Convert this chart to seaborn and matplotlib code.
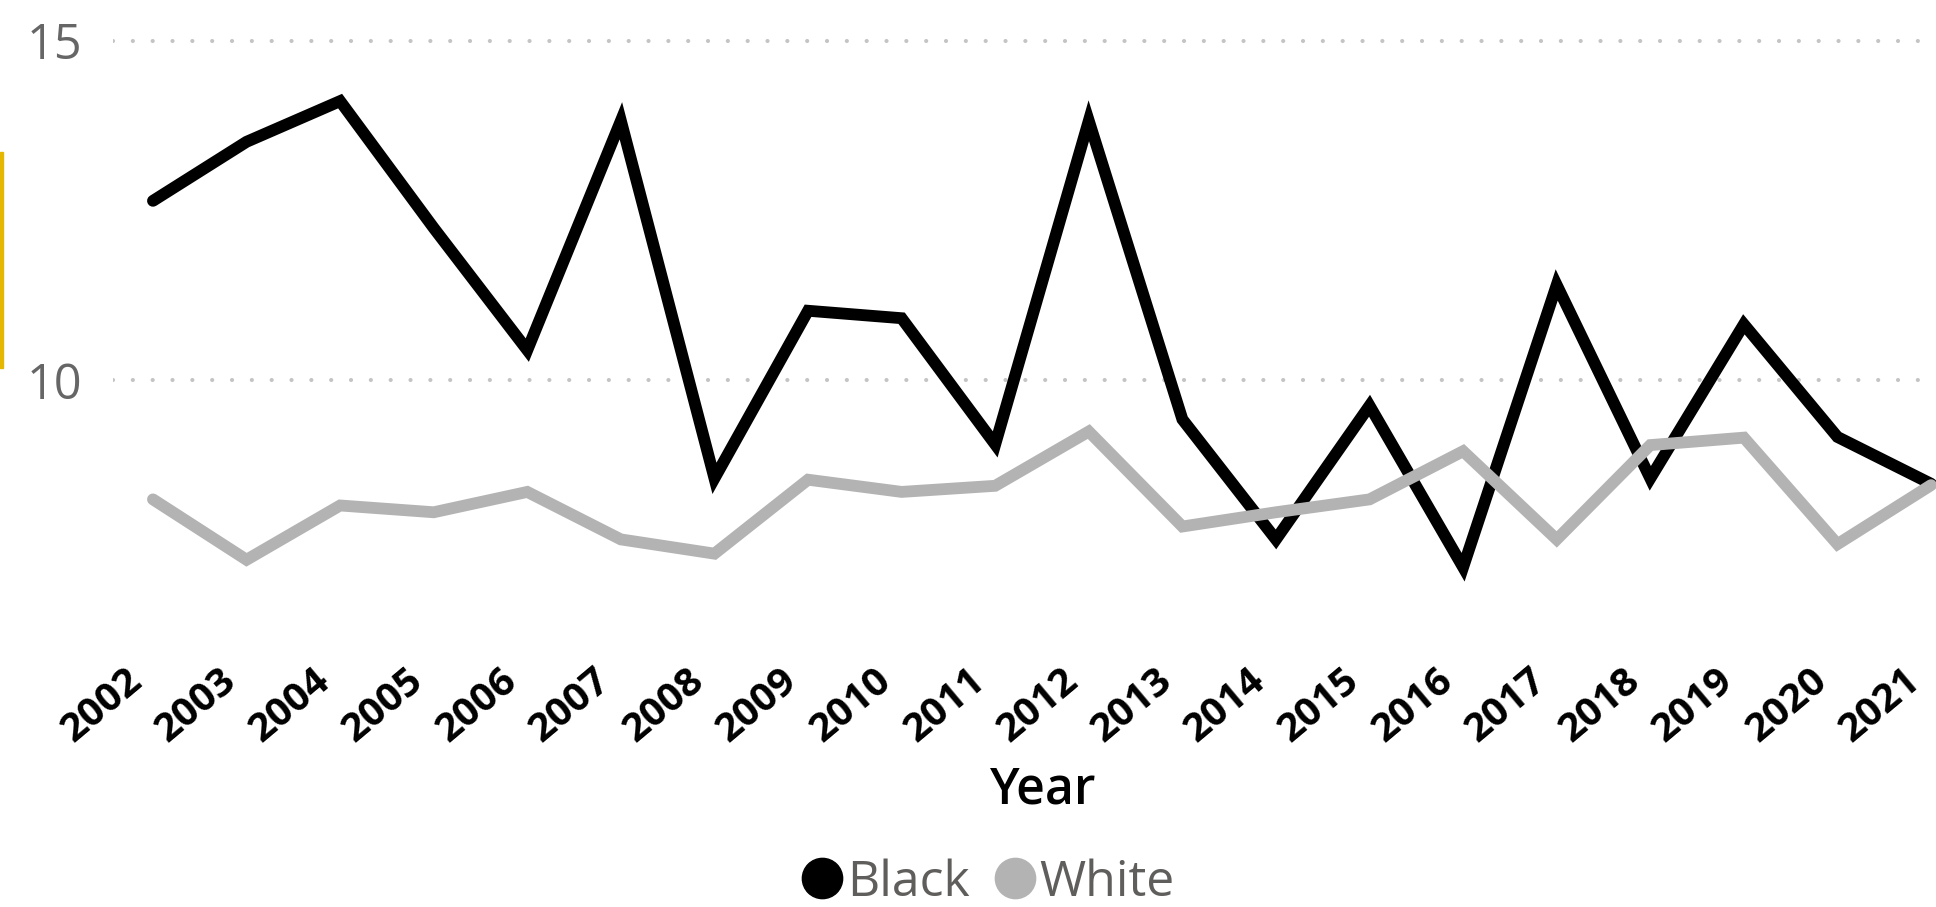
import pandas as pd
import matplotlib.pyplot as plt
import seaborn as sns
from matplotlib.lines import Line2D
from matplotlib.patches import Rectangle
import matplotlib.transforms as mtransforms

years = list(range(2002, 2022))
black_vals = [12.64, 13.51, 14.11, 12.24, 10.44, 13.82, 8.55, 11.02, 10.91, 9.05,
              13.82, 9.42, 7.65, 9.62, 7.24, 11.40, 8.55, 10.82, 9.16, 8.47]
white_vals = [8.24, 7.35, 8.15, 8.05, 8.35, 7.65, 7.44, 8.53, 8.35, 8.44,
              9.24, 7.84, 8.05, 8.24, 8.95, 7.65, 9.04, 9.15, 7.58, 8.45]
groups = ["Black", "White"]
colors = {"Black": "#000000", "White": "#B3B3B3"}

df = pd.DataFrame({
    "Year": years * 2,
    "value": black_vals + white_vals,
    "Race": ["Black"] * len(years) + ["White"] * len(years),
})

sns.set_style("white")
plt.rcParams["font.family"] = ["Open Sans", "DejaVu Sans"]

fig = plt.figure(figsize=(19.36, 9.07), dpi=100)
ax = fig.add_axes([113 / 1936, 257 / 907, 1 - 113 / 1936, 650 / 907])

sns.lineplot(
    data=df, x="Year", y="value", hue="Race", palette=colors,
    linewidth=8.5, legend=False, ax=ax, sort=False,
)
for line in ax.get_lines():
    line.set_solid_capstyle("round")
    line.set_solid_joinstyle("miter")

ax.set_xlim(2002 - 0.427, 2021 + 0.053)
ax.set_ylim(6.02, 15.6)

# dotted gridlines
ax.set_yticks([10, 15])
ax.grid(axis="y", color="#C4C4C4", linewidth=3, linestyle=(0, (0.01, 4.75)),
        dash_capstyle="round")
ax.grid(axis="x", visible=False)
for s in ax.spines.values():
    s.set_visible(False)

ax.tick_params(axis="y", length=0, pad=22, labelsize=35, labelcolor="#666666")
ax.set_xticks(years)
ax.set_xticklabels([str(y) for y in years], rotation=40, ha="right",
                   rotation_mode="anchor", fontweight="bold", fontsize=29)
ax.tick_params(axis="x", length=0, pad=8, labelcolor="black")
offset = mtransforms.ScaledTranslation(-28 / 100, 0, fig.dpi_scale_trans)
for lbl in ax.get_xticklabels():
    lbl.set_transform(lbl.get_transform() + offset)
    lbl.set_va("top")

ax.set_xlabel("")
ax.set_ylabel("")

fig.text(1043 / 1936, 1 - 790 / 907, "Year", fontsize=36, fontweight="semibold",
         ha="center", va="center", color="black")

handles = [Line2D([], [], marker="o", linestyle="", color=colors[g], markersize=29) for g in groups]
fig.legend(handles, groups, loc="center", bbox_to_anchor=(986 / 1936, 1 - 883 / 907),
           ncol=2, frameon=False, fontsize=36, labelcolor="#605E5C",
           handletextpad=0.0, columnspacing=0.4, handlelength=1.0, borderpad=0)

# yellow accent bar on the left
fig.patches.append(Rectangle((0, 1 - 368 / 907), 3 / 1936, 216 / 907,
                             transform=fig.transFigure, color="#E5B700"))

fig.savefig("out.png", dpi=100)
